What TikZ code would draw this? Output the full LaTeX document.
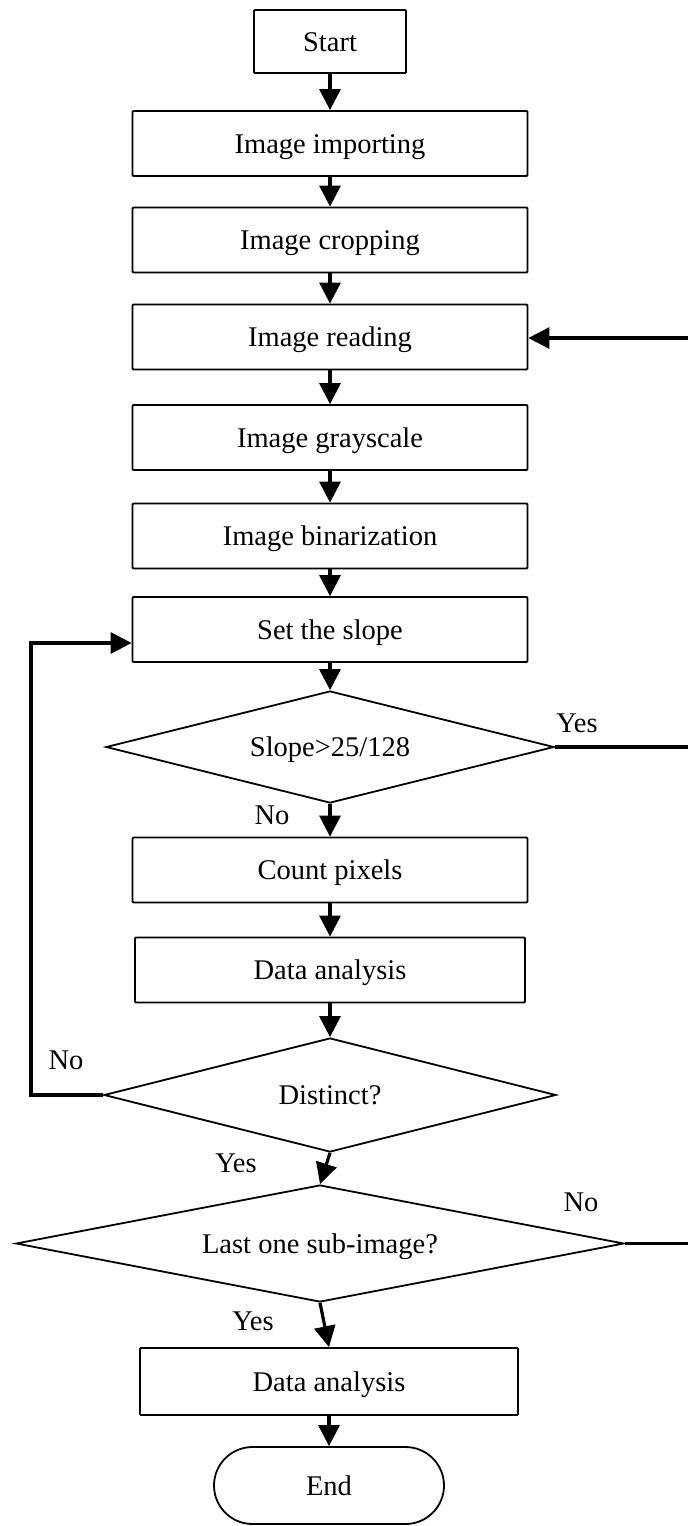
\documentclass[tikz,border=0pt]{standalone}
\usepackage{fontspec}
\setmainfont{Liberation Serif}
\usetikzlibrary{shapes.geometric,shapes.misc,arrows.meta}
\newcommand{\flowfont}{\fontsize{28.5}{34}\selectfont}
\begin{document}
\begin{tikzpicture}[x=1pt,y=-1pt,
  every node/.style={font=\flowfont},
  box/.style={draw, line width=1.8pt, rectangle, rounded corners=1pt, minimum width=395pt, minimum height=65pt, inner sep=0pt, text height=19pt, text depth=0pt},
  dec/.style={draw, line width=1.8pt, diamond, aspect=4, inner sep=0pt, text height=19pt, text depth=0pt},
  term/.style={draw, line width=1.8pt, rounded rectangle, minimum width=230pt, minimum height=77pt, inner sep=0pt, text height=19pt, text depth=0pt},
  conn/.style={line width=3.2pt, -{Triangle[length=21pt,width=21pt]}},
  plain/.style={line width=3.2pt},
  lbl/.style={inner sep=0pt}]
\useasboundingbox (0,0) rectangle (688,1526);
\clip (0,0) rectangle (688,1526);
\fill[white] (0,0) rectangle (688,1526);

% nodes
\node[box, minimum width=152pt, minimum height=63pt] (start) at (330,41.5) {Start};
\node[box] (imp)  at (330,143.5) {Image importing};
\node[box] (crop) at (330,240) {Image cropping};
\node[box] (read) at (330,337) {Image reading};
\node[box] (gray) at (330,437.5) {Image grayscale};
\node[box] (bin)  at (330,536) {Image binarization};
\node[box] (set)  at (330,629.5) {Set the slope};
\node[dec, minimum width=448pt, minimum height=112pt] (d1) at (330,747) {Slope>25/128};
\node[box] (count) at (330,870) {Count pixels};
\node[box, minimum width=390pt] (da1) at (330,970) {Data analysis};
\node[dec, minimum width=452pt, minimum height=114pt] (d2) at (330,1095) {Distinct?};
\node[dec, minimum width=608pt, minimum height=117pt] (d3) at (320,1243.5) {Last one sub-image?};
\node[box, minimum width=378pt, minimum height=67pt] (da2) at (329,1381.5) {Data analysis};
\node[term] (end) at (329,1485.5) {End};

% labels
\node[lbl] (y1) at (577,723) {Yes};
\node[lbl] (n1) at (272,815) {No};
\node[lbl] (n2) at (66,1060) {No};
\node[lbl] (y2) at (236,1163) {Yes};
\node[lbl] (n3) at (581,1202) {No};
\node[lbl] (y3) at (253,1321) {Yes};

% helper coordinates
\coordinate (lx) at (31,643);
\coordinate (rx) at (700,0);

% main flow
\draw[conn] (start.south) -- (imp.north);
\draw[conn] (imp.south) -- (crop.north);
\draw[conn] (crop.south) -- (read.north);
\draw[conn] (read.south) -- (gray.north);
\draw[conn] (gray.south) -- (bin.north);
\draw[conn] (bin.south) -- (set.north);
\draw[conn] (set.south) -- (d1.north);
\draw[conn] (d1.south) -- (count.north);
\draw[conn] (count.south) -- (da1.north);
\draw[conn] (da1.south) -- (d2.north);
\draw[conn] (d2.south) -- (d3.north);
\draw[conn] (d3.south) -- (da2.north);
\draw[conn] (da2.south) -- (end.north);

% loops
\draw[conn] (d2.west) -| (lx) -- (lx -| set.west);
\draw[plain] (d1.east) -- (d1.east -| rx);
\draw[plain] (d3.east) -- (d3.east -| rx);
\draw[conn] ([yshift=-1pt]read.east -| rx) -- ([yshift=-1pt]read.east);
\end{tikzpicture}
\end{document}
